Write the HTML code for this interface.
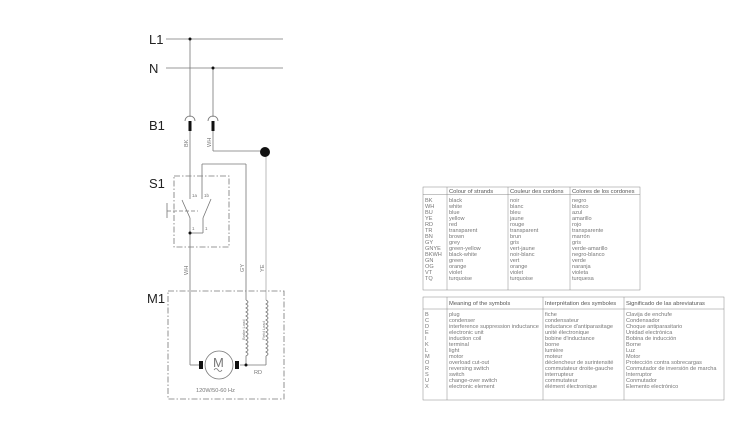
<!DOCTYPE html>
<html><head><meta charset="utf-8"><style>
html,body{margin:0;padding:0;background:#fff;}
svg{display:block;font-family:"Liberation Sans",sans-serif;}
.t{font-size:5.6px;fill:#777;}
.h{font-size:5.8px;fill:#555;}
</style></head><body>
<svg width="750" height="442" viewBox="0 0 750 442" xmlns="http://www.w3.org/2000/svg">
<g stroke="#777" stroke-width="0.8" fill="none">
<line x1="166" y1="39" x2="283" y2="39"/>
<line x1="166" y1="68" x2="283" y2="68"/>
<line x1="190" y1="39" x2="190" y2="117"/>
<line x1="213" y1="68" x2="213" y2="117"/>
<path d="M185 121 A5 5 0 0 1 195 121"/>
<path d="M208 121 A5 5 0 0 1 218 121"/>
<line x1="190" y1="130" x2="190" y2="199"/>
<line x1="213" y1="130" x2="213" y2="151"/>
<line x1="213" y1="151" x2="265" y2="151"/>
<line x1="266" y1="151" x2="266" y2="300" stroke="#aaa"/>
<line x1="202" y1="164" x2="246" y2="164"/>
<line x1="202" y1="164" x2="202" y2="199"/>
<line x1="246" y1="164" x2="246" y2="300"/>
<line x1="182" y1="200" x2="190" y2="218"/>
<line x1="211" y1="199" x2="203" y2="218"/>
<line x1="190" y1="218" x2="190" y2="365"/>
<line x1="203" y1="218" x2="203" y2="233"/>
<line x1="190" y1="233" x2="203" y2="233"/>
<line x1="167" y1="203" x2="167" y2="218"/>
<line x1="167" y1="211" x2="198" y2="211" stroke-dasharray="4,2"/>
<rect x="174" y="176" width="55" height="71" stroke-dasharray="6,2,1.5,2"/>
<rect x="168" y="291" width="116" height="108" stroke-dasharray="6,2,1.5,2"/>
<line x1="190" y1="365" x2="199" y2="365"/>
<circle cx="219" cy="365" r="14"/>
<line x1="240" y1="365" x2="266" y2="365"/>
<line x1="266" y1="356" x2="266" y2="365"/>
<path d="M246 300 q4 2 0 4 q4 2 0 4 q4 2 0 4 q4 2 0 4 q4 2 0 4 q4 2 0 4 q4 2 0 4 q4 2 0 4 q4 2 0 4 q4 2 0 4 q4 2 0 4 q4 2 0 4 q4 2 0 4 q4 2 0 4 L246 365"/>
<path d="M266 300 q4 2 0 4 q4 2 0 4 q4 2 0 4 q4 2 0 4 q4 2 0 4 q4 2 0 4 q4 2 0 4 q4 2 0 4 q4 2 0 4 q4 2 0 4 q4 2 0 4 q4 2 0 4 q4 2 0 4 q4 2 0 4"/>
<path d="M214 370 q2 -3 4 0 q2 3 4 0"/>
</g>
<g fill="#111">
<circle cx="190" cy="39" r="1.5"/><circle cx="213" cy="68" r="1.5"/>
<rect x="188.5" y="121" width="3" height="10"/><rect x="211.5" y="121" width="3" height="10"/>
<circle cx="265" cy="152" r="5"/>
<circle cx="190" cy="233" r="1.5"/><circle cx="246" cy="365" r="1.5"/>
<rect x="199" y="361" width="4" height="8"/><rect x="235" y="361" width="4" height="8"/>
</g>
<g fill="#222" font-size="13">
<text x="149" y="44">L1</text><text x="149" y="73">N</text>
<text x="149" y="130">B1</text><text x="149" y="188">S1</text><text x="147" y="303">M1</text>
</g>
<g class="t">
<text x="213" y="367" font-size="13" fill="#777">M</text>
<text transform="translate(188,147) rotate(-90)">BK</text>
<text transform="translate(211,147) rotate(-90)">WH</text>
<text transform="translate(188,275) rotate(-90)">WH</text>
<text transform="translate(244,272) rotate(-90)">GY</text>
<text transform="translate(264,272) rotate(-90)">YE</text>
<text transform="translate(245,340) rotate(-90)" font-size="4">Brake Load</text>
<text transform="translate(265,340) rotate(-90)" font-size="4">Field Load</text>
<text x="192" y="197" font-size="4.5">1a</text><text x="204" y="197" font-size="4.5">1b</text>
<text x="192" y="230" font-size="4.5">1</text><text x="205" y="230" font-size="4.5">1</text>
<text x="254" y="374">RD</text>
<text x="196" y="392">120W/50-60 Hz</text>
</g>
<g stroke="#888" stroke-width="0.5" fill="none">
<rect x="423" y="187" width="217" height="103"/>
<line x1="447" y1="187" x2="447" y2="290"/><line x1="508" y1="187" x2="508" y2="290"/><line x1="570" y1="187" x2="570" y2="290"/>
<line x1="423" y1="194.5" x2="640" y2="194.5"/>
<rect x="423" y="297" width="301" height="103"/>
<line x1="447" y1="297" x2="447" y2="400"/><line x1="543" y1="297" x2="543" y2="400"/><line x1="624" y1="297" x2="624" y2="400"/>
<line x1="423" y1="309" x2="724" y2="309"/>
</g>
<g class="h">
<text x="449" y="193">Colour of strands</text><text x="510" y="193">Couleur des cordons</text><text x="572" y="193">Colores de los cordones</text>
<text x="449" y="305">Meaning of the symbols</text><text x="545" y="305">Interprétation des symboles</text><text x="626" y="305">Significado de las abreviaturas</text>
</g>
<g class="t">
<text x="425" y="202">BK</text><text x="449" y="202">black</text><text x="510" y="202">noir</text><text x="572" y="202">negro</text>
<text x="425" y="208">WH</text><text x="449" y="208">white</text><text x="510" y="208">blanc</text><text x="572" y="208">blanco</text>
<text x="425" y="214">BU</text><text x="449" y="214">blue</text><text x="510" y="214">bleu</text><text x="572" y="214">azul</text>
<text x="425" y="220">YE</text><text x="449" y="220">yellow</text><text x="510" y="220">jaune</text><text x="572" y="220">amarillo</text>
<text x="425" y="226">RD</text><text x="449" y="226">red</text><text x="510" y="226">rouge</text><text x="572" y="226">rojo</text>
<text x="425" y="232">TR</text><text x="449" y="232">transparent</text><text x="510" y="232">transparent</text><text x="572" y="232">transparente</text>
<text x="425" y="238">BN</text><text x="449" y="238">brown</text><text x="510" y="238">brun</text><text x="572" y="238">marrón</text>
<text x="425" y="244">GY</text><text x="449" y="244">grey</text><text x="510" y="244">gris</text><text x="572" y="244">gris</text>
<text x="425" y="250">GNYE</text><text x="449" y="250">green-yellow</text><text x="510" y="250">vert-jaune</text><text x="572" y="250">verde-amarillo</text>
<text x="425" y="256">BKWH</text><text x="449" y="256">black-white</text><text x="510" y="256">noir-blanc</text><text x="572" y="256">negro-blanco</text>
<text x="425" y="262">GN</text><text x="449" y="262">green</text><text x="510" y="262">vert</text><text x="572" y="262">verde</text>
<text x="425" y="268">OG</text><text x="449" y="268">orange</text><text x="510" y="268">orange</text><text x="572" y="268">naranja</text>
<text x="425" y="274">VT</text><text x="449" y="274">violet</text><text x="510" y="274">violet</text><text x="572" y="274">violeta</text>
<text x="425" y="280">TQ</text><text x="449" y="280">turquoise</text><text x="510" y="280">turquoise</text><text x="572" y="280">turquesa</text>

<text x="425" y="316">B</text><text x="449" y="316">plug</text><text x="545" y="316">fiche</text><text x="626" y="316">Clavija de enchufe</text>
<text x="425" y="322">C</text><text x="449" y="322">condenser</text><text x="545" y="322">condensateur</text><text x="626" y="322">Condensador</text>
<text x="425" y="328">D</text><text x="449" y="328">interference suppression inductance</text><text x="545" y="328">inductance d'antiparasitage</text><text x="626" y="328">Choque antiparasitario</text>
<text x="425" y="334">E</text><text x="449" y="334">electronic unit</text><text x="545" y="334">unité électronique</text><text x="626" y="334">Unidad electrónica</text>
<text x="425" y="340">I</text><text x="449" y="340">induction coil</text><text x="545" y="340">bobine d'inductance</text><text x="626" y="340">Bobina de inducción</text>
<text x="425" y="346">K</text><text x="449" y="346">terminal</text><text x="545" y="346">borne</text><text x="626" y="346">Borne</text>
<text x="425" y="352">L</text><text x="449" y="352">light</text><text x="545" y="352">lumière</text><text x="626" y="352">Luz</text>
<text x="425" y="358">M</text><text x="449" y="358">motor</text><text x="545" y="358">moteur</text><text x="626" y="358">Motor</text>
<text x="425" y="364">O</text><text x="449" y="364">overload cut-out</text><text x="545" y="364">déclencheur de surintensité</text><text x="626" y="364">Protección contra sobrecargas</text>
<text x="425" y="370">R</text><text x="449" y="370">reversing switch</text><text x="545" y="370">commutateur droite-gauche</text><text x="626" y="370">Conmutador de inversión de marcha</text>
<text x="425" y="376">S</text><text x="449" y="376">switch</text><text x="545" y="376">interrupteur</text><text x="626" y="376">Interruptor</text>
<text x="425" y="382">U</text><text x="449" y="382">change-over switch</text><text x="545" y="382">commutateur</text><text x="626" y="382">Conmutador</text>
<text x="425" y="388">X</text><text x="449" y="388">electronic element</text><text x="545" y="388">élément électronique</text><text x="626" y="388">Elemento electrónico</text>
</g>
</svg>
</body></html>
